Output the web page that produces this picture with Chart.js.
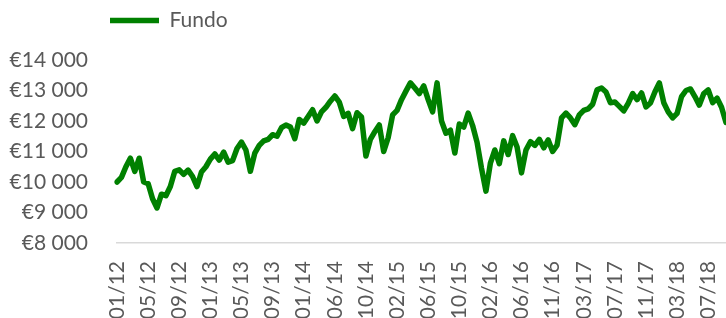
<!DOCTYPE html>
<html>
<head>
<meta charset="utf-8">
<script src="https://cdn.jsdelivr.net/npm/chart.js@4.4.0/dist/chart.umd.min.js"></script>
<style>
  html, body { margin: 0; padding: 0; background: #ffffff; }
  canvas { display: block; }
</style>
</head>
<body>
<canvas id="c" width="726" height="318"></canvas>
<script>
// ---- data ----
const seriesName = 'Fundo';
const tickLabels = ['01/12','05/12','09/12','01/13','05/13','09/13','01/14','06/14','10/14','02/15',
                    '06/15','10/15','02/16','06/16','11/16','03/17','07/17','11/17','03/18','07/18'];
const pointsPerTick = 7;
const fundoValues = [
  10000,10150,10500,10780,10350,10780,10000,9950,9450,9150,
  9600,9550,9850,10350,10400,10250,10390,10180,9850,10330,
  10500,10750,10920,10720,10980,10650,10700,11100,11310,11050,
  10350,10950,11200,11350,11400,11550,11500,11780,11870,11800,
  11420,12050,11930,12150,12370,12000,12300,12450,12650,12820,
  12620,12150,12250,11750,12270,12130,10850,11400,11650,11870,
  11000,11450,12200,12350,12700,12980,13250,13080,12900,13150,
  12700,12300,13250,12000,11600,11700,10950,11900,11800,12260,
  11850,11300,10450,9700,10620,11050,10600,11350,10900,11520,
  11150,10300,11050,11320,11200,11400,11120,11380,11000,11210,
  12100,12260,12100,11880,12200,12350,12400,12550,13020,13080,
  12950,12600,12620,12480,12330,12580,12900,12700,12920,12460,
  12590,12950,13250,12600,12300,12100,12250,12800,13000,13050,
  12800,12520,12900,13020,12600,12750,12450,11950
];
const yMin = 8000, yMax = 14000, yStep = 1000;

// category labels: a tick label every `pointsPerTick` points
const categories = fundoValues.map((_, i) =>
  i % pointsPerTick === 0 ? (tickLabels[i / pointsPerTick] || '') : '');

const FONT = { family: 'Lato', size: 21 };
const TEXT = '#595959';
const GREEN = '#008000';

const layoutTweaks = {
  id: 'layoutTweaks',
  beforeLayout(chart) {
    const lg = chart.legend;
    if (lg && !lg._patched) {
      const fit = lg.fit;
      lg.fit = function () { fit.call(this); this.height = 60; };
      lg._patched = true;
    }
  },
  afterLayout(chart) {
    if (chart.legend) chart.legend.left = 100;
  }
};

new Chart(document.getElementById('c'), {
  type: 'line',
  data: {
    labels: categories,
    datasets: [{
      label: seriesName,
      data: fundoValues,
      borderColor: GREEN,
      backgroundColor: GREEN,
      borderWidth: 5.5,
      borderJoinStyle: 'round',
      borderCapStyle: 'round',
      pointRadius: 0,
      tension: 0,
      fill: false
    }]
  },
  options: {
    responsive: false,
    animation: false,
    devicePixelRatio: 1,
    layout: { padding: 0 },
    plugins: {
      tooltip: { enabled: false },
      legend: {
        display: true,
        position: 'top',
        align: 'start',
        labels: {
          usePointStyle: true,
          pointStyle: 'line',
          pointStyleWidth: 49,
          boxHeight: 10,
          padding: 10,
          color: TEXT,
          font: FONT
        }
      }
    },
    scales: {
      x: {
        type: 'category',
        offset: false,
        grid: { display: false, drawTicks: false },
        border: { display: true, color: '#d9d9d9', width: 1.5 },
        ticks: {
          autoSkip: false,
          maxRotation: 90,
          minRotation: 90,
          padding: 18,
          color: TEXT,
          font: FONT
        },
        afterFit(scale) { scale.height = 75; scale.paddingLeft = 0; scale.paddingRight = 0; }
      },
      y: {
        min: yMin,
        max: yMax,
        grid: { display: false, drawTicks: false },
        border: { display: false },
        ticks: {
          stepSize: yStep,
          padding: 29,
          color: TEXT,
          font: FONT,
          callback: (v) => '€' + String(v).replace(/\B(?=(\d{3})+(?!\d))/g, ' ')
        },
        afterFit(scale) { scale.width = 117; scale.paddingTop = 0; scale.paddingBottom = 0; }
      }
    }
  },
  plugins: [layoutTweaks]
});
</script>
</body>
</html>
